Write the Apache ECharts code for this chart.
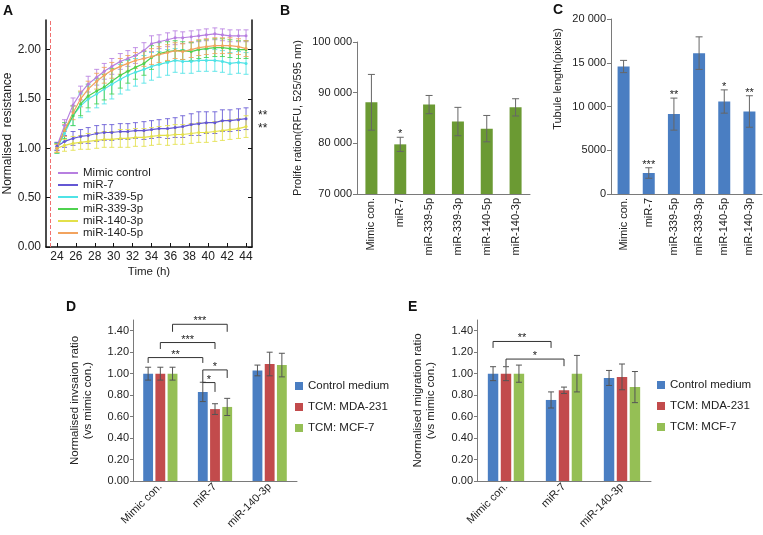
<!DOCTYPE html>
<html><head><meta charset="utf-8">
<script src="https://cdn.jsdelivr.net/npm/echarts@6/dist/echarts.min.js"></script>
<style>html,body{margin:0;padding:0;background:#fff}#chart{width:763px;height:535px}</style>
</head><body><div id="chart"></div>
<script>
// ---------- Panel A data ----------
const timeH = [24.0, 24.8, 25.7, 26.5, 27.3, 28.2, 29.0, 29.8, 30.7, 31.5, 32.3, 33.2, 34.0, 34.8, 35.7, 36.5, 37.3, 38.2, 39.0, 39.8, 40.7, 41.5, 42.3, 43.2, 44.0];
const namesA = ['Mimic control', 'miR-7', 'miR-339-5p', 'miR-339-3p', 'miR-140-3p', 'miR-140-5p'];
const mimicControl = [1.02, 1.23, 1.44, 1.56, 1.65, 1.72, 1.78, 1.83, 1.88, 1.91, 1.94, 1.99, 2.06, 2.08, 2.10, 2.12, 2.12, 2.13, 2.14, 2.15, 2.16, 2.15, 2.14, 2.14, 2.14];
const mimicControlErr = [0.04, 0.06, 0.07, 0.07, 0.08, 0.08, 0.08, 0.08, 0.08, 0.08, 0.08, 0.08, 0.08, 0.07, 0.07, 0.07, 0.06, 0.06, 0.06, 0.06, 0.06, 0.06, 0.06, 0.06, 0.06];
const miR7 = [1.02, 1.07, 1.10, 1.12, 1.13, 1.15, 1.16, 1.16, 1.17, 1.17, 1.18, 1.18, 1.19, 1.20, 1.20, 1.21, 1.22, 1.24, 1.25, 1.26, 1.26, 1.28, 1.28, 1.29, 1.30];
const miR7Err = [0.04, 0.06, 0.07, 0.07, 0.08, 0.08, 0.08, 0.08, 0.08, 0.08, 0.08, 0.09, 0.09, 0.09, 0.10, 0.10, 0.11, 0.11, 0.12, 0.11, 0.11, 0.11, 0.11, 0.11, 0.11];
const miR339_5p = [1.00, 1.15, 1.33, 1.43, 1.50, 1.55, 1.60, 1.65, 1.70, 1.74, 1.77, 1.80, 1.83, 1.85, 1.87, 1.89, 1.88, 1.88, 1.89, 1.89, 1.89, 1.88, 1.86, 1.87, 1.86];
const miR339_5pErr = [0.05, 0.08, 0.10, 0.12, 0.13, 0.14, 0.15, 0.15, 0.15, 0.15, 0.14, 0.14, 0.14, 0.13, 0.13, 0.12, 0.12, 0.12, 0.11, 0.11, 0.11, 0.11, 0.11, 0.11, 0.11];
const miR339_3p = [1.00, 1.18, 1.33, 1.45, 1.53, 1.58, 1.62, 1.68, 1.74, 1.78, 1.82, 1.86, 1.92, 1.96, 1.98, 1.99, 1.99, 1.98, 2.00, 2.01, 2.02, 2.02, 2.01, 2.00, 2.00];
const miR339_3pErr = [0.05, 0.08, 0.10, 0.12, 0.12, 0.13, 0.13, 0.13, 0.13, 0.12, 0.12, 0.12, 0.12, 0.11, 0.10, 0.10, 0.09, 0.09, 0.09, 0.09, 0.09, 0.09, 0.09, 0.09, 0.09];
const miR140_3p = [1.00, 1.03, 1.05, 1.06, 1.07, 1.08, 1.09, 1.09, 1.10, 1.10, 1.11, 1.11, 1.12, 1.13, 1.13, 1.14, 1.14, 1.15, 1.16, 1.16, 1.17, 1.18, 1.19, 1.20, 1.22];
const miR140_3pErr = [0.04, 0.06, 0.07, 0.07, 0.08, 0.08, 0.08, 0.08, 0.09, 0.09, 0.09, 0.09, 0.09, 0.09, 0.10, 0.10, 0.10, 0.10, 0.10, 0.10, 0.10, 0.10, 0.10, 0.10, 0.11];
const miR140_5p = [1.00, 1.18, 1.36, 1.50, 1.60, 1.68, 1.74, 1.79, 1.83, 1.86, 1.89, 1.91, 1.93, 1.95, 1.97, 1.99, 1.98, 2.00, 2.02, 2.03, 2.04, 2.04, 2.04, 2.03, 2.01];
const miR140_5pErr = [0.04, 0.06, 0.07, 0.08, 0.08, 0.08, 0.08, 0.08, 0.08, 0.08, 0.08, 0.08, 0.08, 0.08, 0.08, 0.08, 0.08, 0.08, 0.08, 0.08, 0.08, 0.08, 0.08, 0.08, 0.08];
const xTicksA = [24, 26, 28, 30, 32, 34, 36, 38, 40, 42, 44];
const yTicksA = [0, 0.5, 1.0, 1.5, 2.0];
const seedTimeA = 23.3;
const endSigA = [[44.6, 1.33, '**'], [44.6, 1.20, '**']];

// ---------- Panel B / C data ----------
const catsBC = ['Mimic con.', 'miR-7', 'miR-339-5p', 'miR-339-3p', 'miR-140-5p', 'miR-140-3p'];
const prolifValues = [88100, 79800, 87650, 84300, 82900, 87100];
const prolifErr = [5500, 1400, 1800, 2800, 2600, 1700];
const prolifSig = ['', '*', '', '', '', ''];
const tubuleValues = [14570, 2400, 9130, 16100, 10570, 9430];
const tubuleErr = [700, 600, 1830, 1860, 1330, 1800];
const tubuleSig = ['', '***', '**', '', '*', '**'];

// ---------- Panel D / E data ----------
const catsDE = ['Mimic con.', 'miR-7', 'miR-140-3p'];
const groupNames = ['Control medium', 'TCM: MDA-231', 'TCM: MCF-7'];
const invControl = [1.00, 0.83, 1.03];
const invControlErr = [0.06, 0.09, 0.05];
const invMDA = [1.00, 0.67, 1.09];
const invMDAErr = [0.06, 0.05, 0.11];
const invMCF = [1.00, 0.69, 1.08];
const invMCFErr = [0.06, 0.08, 0.11];
const migControl = [1.00, 0.755, 0.96];
const migControlErr = [0.065, 0.075, 0.07];
const migMDA = [1.00, 0.845, 0.97];
const migMDAErr = [0.065, 0.03, 0.12];
const migMCF = [1.00, 1.00, 0.875];
const migMCFErr = [0.08, 0.17, 0.145];
const yTicksDE = [0, 0.2, 0.4, 0.6, 0.8, 1.0, 1.2, 1.4];
// brackets: [catA, barA, catB, barB, level, endA, endB, text]
const invBrackets = [
  [0, 0, 1, 0, 1.15, 1.10, 1.10, '**'],
  [0, 1, 1, 1, 1.29, 1.23, 1.23, '***'],
  [0, 2, 1, 2, 1.46, 1.39, 1.39, '***'],
  [1, 0, 1, 1, 0.917, 0.917, 0.83, '*'],
  [1, 0, 1, 2, 1.035, 0.917, 0.96, '*']
];
const migBrackets = [
  [0, 0, 1, 0, 1.30, 1.24, 1.24, '**'],
  [0, 1, 1, 1, 1.136, 1.07, 1.07, '*']
];

// ---------- styling ----------
const FONT = "'Liberation Sans', Arial, Helvetica, sans-serif";
const colorsA = ['#b77fe0', '#6457d4', '#4fe3e6', '#4fd24f', '#e3e04a', '#f2a35e'];
const colorB = '#6b9a33';
const colorC = '#4a7ec2';
const colorsDE = ['#4a7ec2', '#c24b4c', '#95bf55'];
const BAR_PITCH = 0.2232; // bar width 18% + gap 24% of bar width

const valsA = [mimicControl, miR7, miR339_5p, miR339_3p, miR140_3p, miR140_5p];
const errsA = [mimicControlErr, miR7Err, miR339_5pErr, miR339_3pErr, miR140_3pErr, miR140_5pErr];

function makeErrRender(color, capHalf, offsetFrac, labels, lw, opacity) {
  return function (params, api) {
    const x = api.value(0), lo = api.value(1), hi = api.value(2);
    const pH = api.coord([x, hi]), pL = api.coord([x, lo]);
    const dx = offsetFrac ? offsetFrac * api.size([1, 0])[0] : 0;
    const cx = pH[0] + dx;
    const st = { stroke: color, lineWidth: lw || 1, opacity: opacity == null ? 1 : opacity };
    const ch = [
      { type: 'line', shape: { x1: cx, y1: pH[1], x2: cx, y2: pL[1] }, style: st },
      { type: 'line', shape: { x1: cx - capHalf, y1: pH[1], x2: cx + capHalf, y2: pH[1] }, style: st },
      { type: 'line', shape: { x1: cx - capHalf, y1: pL[1], x2: cx + capHalf, y2: pL[1] }, style: st }
    ];
    if (labels && labels[params.dataIndex]) {
      ch.push({ type: 'text', x: cx, y: pH[1] - 3, style: { text: labels[params.dataIndex], textAlign: 'center', textVerticalAlign: 'middle', font: '11px ' + FONT, fill: '#222' } });
    }
    return { type: 'group', children: ch };
  };
}

function makeBracketRender(list) {
  return function (params, api) {
    const b = list[params.dataIndex];
    const band = api.size([1, 0])[0];
    const pitch = BAR_PITCH * band;
    const xa = api.coord([b[0], b[4]])[0] + (b[1] - 1) * pitch;
    const xb = api.coord([b[2], b[4]])[0] + (b[3] - 1) * pitch;
    const y = api.coord([b[0], b[4]])[1];
    const ya = api.coord([b[0], b[5]])[1];
    const yb = api.coord([b[0], b[6]])[1];
    const st = { stroke: '#333', lineWidth: 1 };
    return { type: 'group', children: [
      { type: 'polyline', shape: { points: [[xa, ya], [xa, y], [xb, y], [xb, yb]] }, style: Object.assign({ fill: 'none' }, st) },
      { type: 'text', x: (xa + xb) / 2, y: y - 3, style: { text: b[7], textAlign: 'center', textVerticalAlign: 'middle', font: '11px ' + FONT, fill: '#222' } }
    ] };
  };
}

function groupThousands(v) {
  if (v >= 10000) { const s = String(v); return s.slice(0, s.length - 3) + ' ' + s.slice(-3); }
  return String(v);
}

const grayAxis = { lineStyle: { color: '#7a7a7a', width: 1 } };
const lbl = (size) => ({ fontFamily: FONT, fontSize: size, color: '#222' });

const series = [];
// Panel A lines + error bars
namesA.forEach((n, k) => {
  const line = {
    type: 'line', name: n, xAxisIndex: 0, yAxisIndex: 0,
    data: timeH.map((t, i) => [t, valsA[k][i]]),
    symbol: 'circle', symbolSize: 3, showSymbol: true,
    lineStyle: { color: colorsA[k], width: 1.2 }, itemStyle: { color: colorsA[k] },
    z: 4, animation: false
  };
  if (k === 0) {
    line.markLine = { silent: true, symbol: ['none', 'none'], label: { show: false },
      lineStyle: { color: '#f07070', type: 'dashed', width: 1 }, data: [{ xAxis: seedTimeA }] };
  }
  series.push(line);
  series.push({
    type: 'custom', name: n, xAxisIndex: 0, yAxisIndex: 0,
    data: timeH.map((t, i) => [t, valsA[k][i] - errsA[k][i], valsA[k][i] + errsA[k][i]]),
    encode: { x: 0, y: [1, 2] },
    renderItem: makeErrRender(colorsA[k], 2.5, 0, null, 1, 0.85), z: 3, animation: false
  });
});
series.push({
  type: 'custom', xAxisIndex: 0, yAxisIndex: 0, data: endSigA.map(d => [d[0], d[1]]), encode: { x: 0, y: 1 },
  renderItem: function (params, api) {
    const p = api.coord([api.value(0), api.value(1)]);
    return { type: 'text', x: p[0] + 11, y: p[1], style: { text: endSigA[params.dataIndex][2], textAlign: 'center', textVerticalAlign: 'middle', font: '12px ' + FONT, fill: '#222' } };
  }, animation: false
});

// Panel B
series.push({ type: 'bar', xAxisIndex: 1, yAxisIndex: 2, data: prolifValues, barWidth: 12, itemStyle: { color: colorB }, animation: false });
series.push({ type: 'custom', xAxisIndex: 1, yAxisIndex: 2, data: catsBC.map((c, i) => [i, prolifValues[i] - prolifErr[i], prolifValues[i] + prolifErr[i]]),
  encode: { x: 0, y: [1, 2] }, renderItem: makeErrRender('#666', 3.5, 0, prolifSig, 1), z: 5, animation: false });
// Panel C
series.push({ type: 'bar', xAxisIndex: 2, yAxisIndex: 3, data: tubuleValues, barWidth: 12, itemStyle: { color: colorC }, animation: false });
series.push({ type: 'custom', xAxisIndex: 2, yAxisIndex: 3, data: catsBC.map((c, i) => [i, tubuleValues[i] - tubuleErr[i], tubuleValues[i] + tubuleErr[i]]),
  encode: { x: 0, y: [1, 2] }, renderItem: makeErrRender('#666', 3.5, 0, tubuleSig, 1), z: 5, animation: false });

// Panels D, E
const invVals = [invControl, invMDA, invMCF], invErrs = [invControlErr, invMDAErr, invMCFErr];
const migVals = [migControl, migMDA, migMCF], migErrs = [migControlErr, migMDAErr, migMCFErr];
[[invVals, invErrs, 3, 4], [migVals, migErrs, 4, 5]].forEach(([vals, errs, xi, yi]) => {
  groupNames.forEach((g, k) => {
    series.push({ type: 'bar', name: g, xAxisIndex: xi, yAxisIndex: yi, data: vals[k], barWidth: '18%', barGap: '24%',
      itemStyle: { color: colorsDE[k] }, animation: false });
  });
  groupNames.forEach((g, k) => {
    series.push({ type: 'custom', xAxisIndex: xi, yAxisIndex: yi,
      data: catsDE.map((c, i) => [i, vals[k][i] - errs[k][i], vals[k][i] + errs[k][i]]),
      encode: { x: 0, y: [1, 2] }, renderItem: makeErrRender('#555', 3, (k - 1) * BAR_PITCH, null, 1), z: 5, animation: false });
  });
});
series.push({ type: 'custom', xAxisIndex: 3, yAxisIndex: 4, data: invBrackets.map(b => [b[0], b[4]]), encode: { x: 0, y: 1 },
  renderItem: makeBracketRender(invBrackets), z: 6, animation: false });
series.push({ type: 'custom', xAxisIndex: 4, yAxisIndex: 5, data: migBrackets.map(b => [b[0], b[4]]), encode: { x: 0, y: 1 },
  renderItem: makeBracketRender(migBrackets), z: 6, animation: false });

const catX = (gi, cats, rotate, size) => ({
  type: 'category', gridIndex: gi, data: cats,
  axisLine: grayAxis, axisTick: { show: false },
  axisLabel: Object.assign(lbl(size), { rotate: rotate, margin: 4, interval: 0 })
});

const option = {
  backgroundColor: '#fff',
  animation: false,
  textStyle: { fontFamily: FONT },
  grid: [
    { left: 46, right: 511, top: 20, bottom: 288, outerBoundsMode: 'none', containLabel: false },
    { left: 357, right: 233, top: 42, bottom: 341, outerBoundsMode: 'none', containLabel: false },
    { left: 611, right: 1, top: 19, bottom: 341, outerBoundsMode: 'none', containLabel: false },
    { left: 133, right: 466, top: 320, bottom: 54, outerBoundsMode: 'none', containLabel: false },
    { left: 477, right: 112, top: 320, bottom: 54, outerBoundsMode: 'none', containLabel: false }
  ],
  legend: [
    { left: 58, top: 167, orient: 'vertical', padding: 0, itemGap: 0, itemWidth: 20, itemHeight: 2, icon: 'rect',
      data: namesA, textStyle: { fontFamily: FONT, fontSize: 11.5, lineHeight: 10, color: '#222' } },
    { left: 295, top: 379, orient: 'vertical', padding: 0, itemGap: 7, itemWidth: 8, itemHeight: 8, icon: 'rect',
      data: groupNames, textStyle: { fontFamily: FONT, fontSize: 11.5, lineHeight: 14, color: '#222' } },
    { left: 657, top: 378, orient: 'vertical', padding: 0, itemGap: 7, itemWidth: 8, itemHeight: 8, icon: 'rect',
      data: groupNames, textStyle: { fontFamily: FONT, fontSize: 11.5, lineHeight: 14, color: '#222' } }
  ],
  xAxis: [
    { type: 'value', gridIndex: 0, min: 22.84, max: 44.63,
      name: 'Time (h)', nameLocation: 'middle', nameGap: 19, nameTextStyle: lbl(11.5),
      axisLine: { lineStyle: { color: '#111', width: 1.5 } },
      axisTick: { inside: true, length: 4, customValues: xTicksA, lineStyle: { color: '#111' } },
      axisLabel: Object.assign(lbl(12), { customValues: xTicksA, margin: 4 }),
      splitLine: { show: false } },
    catX(1, catsBC, 90, 11),
    catX(2, catsBC, 90, 11),
    catX(3, catsDE, 45, 11),
    catX(4, catsDE, 45, 11)
  ],
  yAxis: [
    { type: 'value', gridIndex: 0, min: 0, max: 2.3,
      name: 'Normalised  resistance', nameLocation: 'middle', nameGap: 32, nameTextStyle: lbl(12),
      axisLine: { show: true, lineStyle: { color: '#111', width: 1.5 } },
      axisTick: { show: true, inside: true, length: 4, customValues: yTicksA, lineStyle: { color: '#111' } },
      axisLabel: Object.assign(lbl(12), { customValues: yTicksA, formatter: v => v.toFixed(2), margin: 5 }),
      splitLine: { show: false } },
    { type: 'value', gridIndex: 0, min: 0, max: 2.3, position: 'right',
      axisLine: { show: true, lineStyle: { color: '#111', width: 1.5 } },
      axisTick: { show: true, inside: true, length: 4, customValues: yTicksA, lineStyle: { color: '#111' } },
      axisLabel: { show: false }, splitLine: { show: false } },
    { type: 'value', gridIndex: 1, min: 70000, max: 100000, interval: 10000,
      name: 'Prolife ration(RFU, 525/595 nm)', nameLocation: 'middle', nameGap: 54, nameTextStyle: lbl(11),
      axisLine: Object.assign({ show: true }, grayAxis), axisTick: { show: true, length: 4, lineStyle: { color: '#7a7a7a' } },
      axisLabel: Object.assign(lbl(11), { formatter: groupThousands, margin: 5 }), splitLine: { show: false } },
    { type: 'value', gridIndex: 2, min: 0, max: 20000, interval: 5000,
      axisLine: Object.assign({ show: true }, grayAxis), axisTick: { show: true, length: 4, lineStyle: { color: '#7a7a7a' } },
      axisLabel: Object.assign(lbl(11), { formatter: groupThousands, margin: 5 }), splitLine: { show: false } },
    { type: 'value', gridIndex: 3, min: 0, max: 1.5,
      name: 'Normalised invsaion ratio\n(vs mimic con.)', nameLocation: 'middle', nameGap: 39, nameTextStyle: Object.assign(lbl(11.5), { lineHeight: 13 }),
      axisLine: Object.assign({ show: true }, grayAxis),
      axisTick: { show: true, length: 3, customValues: yTicksDE, lineStyle: { color: '#7a7a7a' } },
      axisLabel: Object.assign(lbl(11), { customValues: yTicksDE, formatter: v => v.toFixed(2), margin: 4 }), splitLine: { show: false } },
    { type: 'value', gridIndex: 4, min: 0, max: 1.5,
      name: 'Normalised migration ratio\n(vs mimic con.)', nameLocation: 'middle', nameGap: 40, nameTextStyle: Object.assign(lbl(11.5), { lineHeight: 13 }),
      axisLine: Object.assign({ show: true }, grayAxis),
      axisTick: { show: true, length: 3, customValues: yTicksDE, lineStyle: { color: '#7a7a7a' } },
      axisLabel: Object.assign(lbl(11), { customValues: yTicksDE, formatter: v => v.toFixed(2), margin: 4 }), splitLine: { show: false } }
  ],
  graphic: [
    { type: 'text', left: 3, top: 4, style: { text: 'A', font: 'bold 14px ' + FONT, fill: '#111' } },
    { type: 'text', left: 280, top: 4, style: { text: 'B', font: 'bold 14px ' + FONT, fill: '#111' } },
    { type: 'text', left: 553, top: 3, style: { text: 'C', font: 'bold 14px ' + FONT, fill: '#111' } },
    { type: 'text', left: 66, top: 300, style: { text: 'D', font: 'bold 14px ' + FONT, fill: '#111' } },
    { type: 'text', left: 408, top: 300, style: { text: 'E', font: 'bold 14px ' + FONT, fill: '#111' } },
    { type: 'text', x: 558, y: 79, rotation: Math.PI / 2,
      style: { text: 'Tubule length(pixels)', font: '11px ' + FONT, fill: '#222', textAlign: 'center', textVerticalAlign: 'middle' } }
  ],
  series: series
};

const chart = echarts.init(document.getElementById('chart'), null, { renderer: 'canvas' });
chart.setOption(option);
</script></body></html>
